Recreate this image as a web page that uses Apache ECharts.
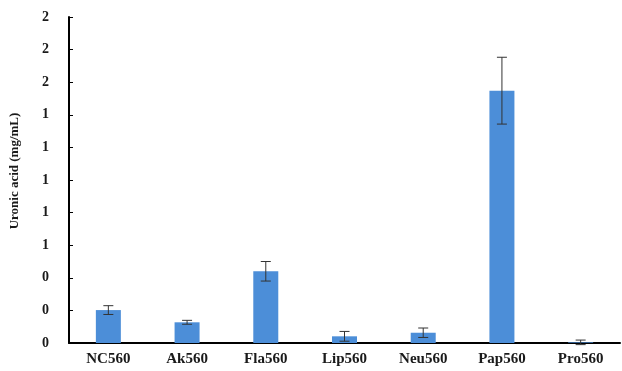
<!DOCTYPE html>
<html>
<head>
<meta charset="utf-8">
<script src="https://cdn.jsdelivr.net/npm/echarts@6/dist/echarts.min.js"></script>
<style>
  html, body { margin: 0; padding: 0; background: #fff; }
  #chart { width: 622px; height: 371px; }
</style>
</head>
<body>
<div id="chart"></div>
<script>
// Uronic acid content per treatment (mg/mL) with standard deviation
const categories = ['NC560', 'Ak560', 'Fla560', 'Lip560', 'Neu560', 'Pap560', 'Pro560'];
const means = [0.202, 0.127, 0.440, 0.041, 0.063, 1.548, 0.004];
const errors = [0.027, 0.012, 0.060, 0.030, 0.029, 0.205, 0.014];
const yTicks = { min: 0, max: 2, interval: 0.2 };

const font = 'Liberation Serif';
const chart = echarts.init(document.getElementById('chart'));

const errorData = categories.map((c, i) => [i, means[i] - errors[i], means[i] + errors[i]]);

chart.setOption({
  animation: false,
  grid: { left: 66, right: 2, top: 17, bottom: 28, containLabel: false },
  xAxis: {
    type: 'category',
    data: categories,
    axisLine: { lineStyle: { color: '#000', width: 2 } },
    axisTick: { show: false },
    axisLabel: { color: '#1a1a1a', fontFamily: font, fontWeight: 'bold', fontSize: 15, margin: 9 }
  },
  yAxis: {
    type: 'value',
    min: yTicks.min,
    max: yTicks.max,
    interval: yTicks.interval,
    name: 'Uronic acid (mg/mL)',
    nameLocation: 'middle',
    nameGap: 48,
    nameTextStyle: {
      color: '#1a1a1a', fontFamily: font, fontWeight: 'bold', fontSize: 13,
      padding: [0, 0, 0, 18]
    },
    axisLine: { show: true, lineStyle: { color: '#000', width: 2 } },
    axisTick: { show: true, inside: true, length: 4, lineStyle: { color: '#000', width: 1 } },
    splitLine: { show: false },
    axisLabel: {
      color: '#1a1a1a', fontFamily: font, fontWeight: 'bold', fontSize: 14, margin: 20,
      formatter: v => Math.round(v).toString()
    }
  },
  series: [
    {
      type: 'bar',
      data: means,
      barWidth: 25,
      itemStyle: { color: '#4C8ED8' }
    },
    {
      type: 'custom',
      data: errorData,
      z: 10,
      renderItem: (params, api) => {
        const x = api.value(0);
        const lo = api.coord([x, api.value(1)]);
        const hi = api.coord([x, api.value(2)]);
        const half = 5;
        const style = { stroke: '#333', lineWidth: 1 };
        return {
          type: 'group',
          children: [
            { type: 'line', shape: { x1: hi[0], y1: hi[1], x2: lo[0], y2: lo[1] }, style },
            { type: 'line', shape: { x1: hi[0] - half, y1: hi[1], x2: hi[0] + half, y2: hi[1] }, style },
            { type: 'line', shape: { x1: lo[0] - half, y1: lo[1], x2: lo[0] + half, y2: lo[1] }, style }
          ]
        };
      }
    }
  ]
});
</script>
</body>
</html>
